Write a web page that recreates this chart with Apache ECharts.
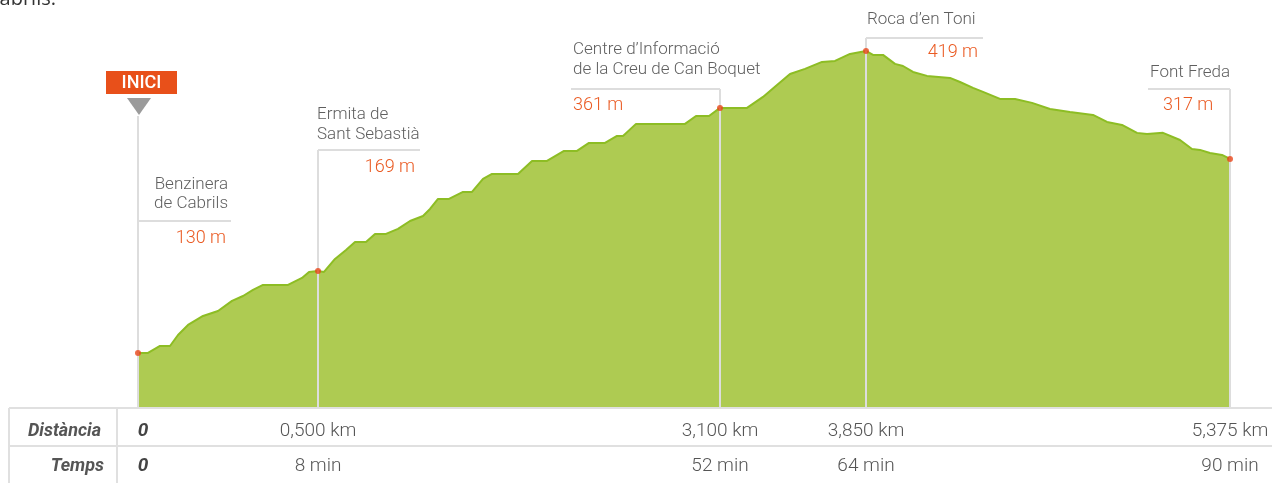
<!DOCTYPE html>
<html>
<head>
<meta charset="utf-8">
<script src="https://cdn.jsdelivr.net/npm/echarts@6/dist/echarts.min.js"></script>
<style>
html, body { margin: 0; padding: 0; background: #fff; }
#perfil { width: 1272px; height: 483px; }
</style>
</head>
<body>
<div id="perfil"></div>
<script>
// posició horitzontal al perfil (esquemàtica) i altitud (m)
var profilePos = [0, 10, 22, 32, 40, 50, 65, 80, 94, 105, 115, 125, 150, 164, 171, 180, 186, 197, 208, 217,
    228, 237, 248, 260, 272, 285, 292, 300, 311, 325, 334, 345, 354, 380, 394, 409, 426, 439, 451, 467,
    479, 485, 498, 547, 558, 571, 582, 609, 625, 639, 652, 667, 684, 697, 712, 728, 735, 745, 757, 765,
    775, 789, 812, 822, 835, 845, 862, 877, 894, 912, 932, 955, 969, 984, 999, 1009, 1025, 1042, 1054, 1062,
    1072, 1084, 1092];
var profileElev = [130, 130, 136.7, 136.7, 147.2, 156.8, 165.4, 170.2, 179.8, 184.5,
    190.3, 195.1, 195.1, 201.8, 207.5, 208.5, 207.5, 220.0, 228.6, 236.2,
    236.2, 243.9, 243.9, 248.7, 256.3, 261.1, 267.8, 277.4, 277.4, 284.1,
    284.1, 296.5, 301.3, 301.3, 313.7, 313.7, 323.3, 323.3, 331.0, 331.0,
    337.7, 337.7, 349.2, 349.2, 356.8, 356.8, 364.5, 364.5, 375.0, 386.5,
    397.0, 401.8, 408.5, 409.4, 416.1, 419.0, 415.2, 415.2, 406.6, 404.6,
    398.9, 395.1, 393.2, 389.3, 383.6, 379.8, 373.1, 373.1, 369.3, 363.5,
    360.6, 357.8, 351.1, 348.2, 340.6, 339.6, 340.6, 333.8, 325.2, 324.3,
    321.4, 319.5, 315.7];

// punts de pas
var stopIdx = [0, 15, 46, 55, 82];
var stopNames = [['Benzinera', 'de Cabrils'], ['Ermita de', 'Sant Sebastià'],
    ['Centre d’Informació', 'de la Creu de Can Boquet'], ['Roca d’en Toni'], ['Font Freda']];
var stopElev = ['130 m', '169 m', '361 m', '419 m', '317 m'];
var distLabels = ['0', '0,500 km', '3,100 km', '3,850 km', '5,375 km'];
var timeLabels = ['0', '8 min', '52 min', '64 min', '90 min'];

var GREEN = '#aecb52', GREEN_LINE = '#8dbd24', ORANGE = '#ea5a22', GREY_LINE = '#dddddd';
var FONT = 'Roboto, "Liberation Sans", sans-serif';

// on va cada etiqueta (relatiu a la x del punt)
var callouts = [
    {top: 116, lineY: 221, hx: [0, 93], nameX: 90, nameAlign: 'right', nameY: [185, 204], elevX: 88, elevAlign: 'right', elevY: 238},
    {top: 150, lineY: 150, hx: [0, 102], nameX: -1, nameAlign: 'left', nameY: [115, 135], elevX: 97, elevAlign: 'right', elevY: 167},
    {top: 89, lineY: 89, hx: [-149, 0], nameX: -147, nameAlign: 'left', nameY: [50, 70], elevX: -147, elevAlign: 'left', elevY: 105},
    {top: 38, lineY: 38, hx: [0, 117], nameX: 1, nameAlign: 'left', nameY: [20], elevX: 112, elevAlign: 'right', elevY: 52},
    {top: 89, lineY: 89, hx: [-82, 0], nameX: -80, nameAlign: 'left', nameY: [73], elevX: -67, elevAlign: 'left', elevY: 105}
];

var stopX = stopIdx.map(function (i) { return profilePos[i]; });

function tableLabel(list) {
    return function (v) {
        var k = stopX.indexOf(v);
        if (k === 0) return '{z|' + list[0] + '}';
        return k < 0 ? '' : list[k];
    };
}
var zeroRich = {z: {fontStyle: 'italic', fontWeight: 'bold', color: '#444', fontSize: 19, fontFamily: FONT, padding: [0, 0, 0, 10]}};

var myChart = echarts.init(document.getElementById('perfil'));
var option = {
    animation: false,
    backgroundColor: '#fff',
    grid: {left: 138, right: 42, top: 20, bottom: 76},
    xAxis: [{
        type: 'value', min: 0, max: 1092, position: 'bottom',
        axisLine: {show: true, lineStyle: {color: GREEN_LINE, width: 2}},
        axisTick: {show: false}, splitLine: {show: false},
        axisLabel: {
            customValues: stopX, formatter: tableLabel(distLabels), hideOverlap: false,
            verticalAlign: 'middle', margin: 24, color: '#555', fontSize: 19, fontWeight: 300, fontFamily: FONT, rich: zeroRich
        }
    }, {
        type: 'value', min: 0, max: 1092, position: 'bottom', offset: 35,
        axisLine: {show: false}, axisTick: {show: false}, splitLine: {show: false},
        axisLabel: {
            customValues: stopX, formatter: tableLabel(timeLabels), hideOverlap: false,
            verticalAlign: 'middle', margin: 24, color: '#555', fontSize: 19, fontWeight: 300, fontFamily: FONT, rich: zeroRich
        }
    }],
    yAxis: {type: 'value', min: 78.3, max: 448.6, show: false},
    series: [{
        type: 'line',
        data: profilePos.map(function (x, i) { return [x, profileElev[i]]; }),
        symbol: 'none',
        lineStyle: {color: GREEN_LINE, width: 2},
        areaStyle: {color: GREEN, opacity: 1},
        z: 2, silent: true
    }, {
        type: 'scatter',
        data: stopIdx.map(function (i) { return [profilePos[i], profileElev[i]]; }),
        symbolSize: 6,
        itemStyle: {color: '#e8461a'},
        z: 60, silent: true
    }]
};
myChart.setOption(option);

// línies i textos de les etiquetes
var els = [];
var base = myChart.convertToPixel({xAxisIndex: 0, yAxisIndex: 0}, [0, 78.3])[1];
stopIdx.forEach(function (idx, k) {
    var px = myChart.convertToPixel({xAxisIndex: 0, yAxisIndex: 0}, [profilePos[idx], profileElev[idx]]);
    var c = callouts[k];
    var x = Math.round(px[0]);
    els.push({type: 'line', z: 50, shape: {x1: x, y1: c.top, x2: x, y2: base}, style: {stroke: GREY_LINE, lineWidth: 2}});
    els.push({type: 'line', z: 50, shape: {x1: x + c.hx[0], y1: c.lineY, x2: x + c.hx[1], y2: c.lineY}, style: {stroke: GREY_LINE, lineWidth: 2}});
    stopNames[k].forEach(function (t, j) {
        els.push({type: 'text', z: 50, style: {text: t, x: x + c.nameX, y: c.nameY[j], textAlign: c.nameAlign, textVerticalAlign: 'middle',
            fill: '#5f5f5f', font: '300 17px ' + FONT}});
    });
    els.push({type: 'text', z: 50, style: {text: stopElev[k], x: x + c.elevX, y: c.elevY, textAlign: c.elevAlign, textVerticalAlign: 'middle',
        fill: ORANGE, font: '300 18px ' + FONT}});
    if (k === 0) {
        els.push({type: 'rect', z: 50, shape: {x: x - 32, y: 71, width: 71, height: 23}, style: {fill: '#e8501a'}});
        els.push({type: 'text', z: 51, style: {text: 'INICI', x: x + 3.5, y: 83, textAlign: 'center', textVerticalAlign: 'middle',
            fill: '#fff', font: '500 18px ' + FONT}});
        els.push({type: 'polygon', z: 50, shape: {points: [[x - 11, 98], [x + 13, 98], [x + 1, 115]]}, style: {fill: '#9b9b9b'}});
    }
});

// taula inferior
var tl = {stroke: '#e0e0e0', lineWidth: 2};
els.push({type: 'line', z: 40, shape: {x1: 9, y1: 408, x2: 1272, y2: 408}, style: tl});
els.push({type: 'line', z: 40, shape: {x1: 9, y1: 446, x2: 1272, y2: 446}, style: tl});
els.push({type: 'line', z: 40, shape: {x1: 9, y1: 408, x2: 9, y2: 483}, style: tl});
els.push({type: 'line', z: 40, shape: {x1: 117, y1: 408, x2: 117, y2: 483}, style: tl});
els.push({type: 'text', z: 40, style: {text: 'Distància', x: 101, y: 431, textAlign: 'right', textVerticalAlign: 'middle',
    fill: '#555', font: 'italic bold 18px ' + FONT}});
els.push({type: 'text', z: 40, style: {text: 'Temps', x: 104, y: 466, textAlign: 'right', textVerticalAlign: 'middle',
    fill: '#555', font: 'italic bold 18px ' + FONT}});
// resta del paràgraf de dalt
els.push({type: 'text', z: 40, style: {text: 'Cabrils.', x: -13, y: 9, textAlign: 'left', textVerticalAlign: 'bottom',
    fill: '#333', font: '20px "Open Sans", sans-serif'}});

myChart.setOption({graphic: {elements: els}});
</script>
</body>
</html>
